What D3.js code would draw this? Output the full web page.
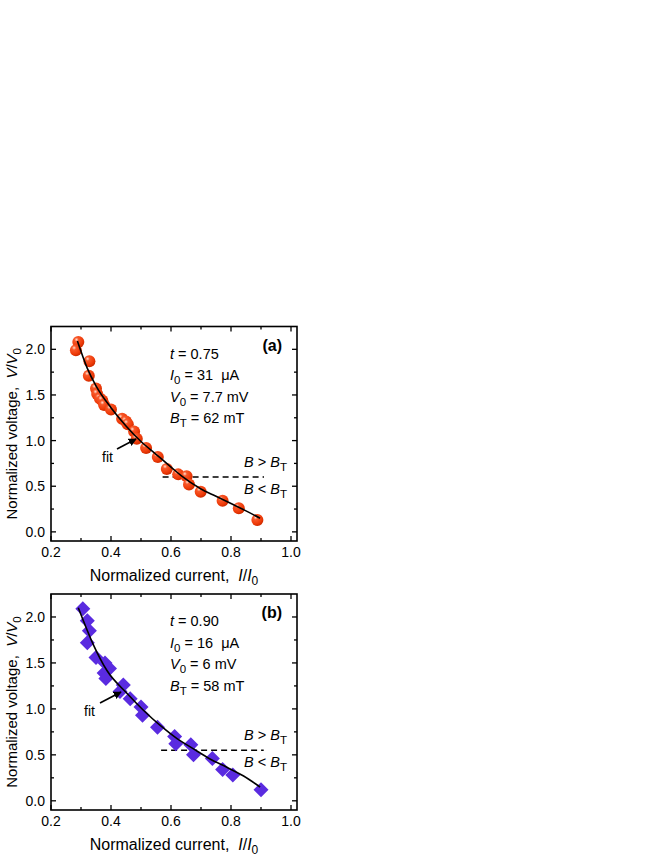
<!DOCTYPE html>
<html><head><meta charset="utf-8">
<script src="https://cdn.jsdelivr.net/npm/d3@7"></script>
<style>body{margin:0;background:#fff}svg{display:block}text{font-family:"Liberation Sans",Arial,sans-serif;fill:#000;white-space:pre}</style>
</head><body><svg id="c" width="664" height="860"></svg>
<script>
// Panel (a) data
const aI = [0.291,0.283,0.328,0.326,0.350,0.354,0.363,0.371,0.377,0.400,0.437,0.450,0.456,0.477,0.486,0.517,0.556,0.586,0.624,0.652,0.660,0.699,0.772,0.826,0.888];
const aV = [2.08,1.99,1.87,1.71,1.57,1.51,1.46,1.44,1.39,1.34,1.24,1.21,1.18,1.10,1.02,0.92,0.82,0.69,0.63,0.61,0.52,0.44,0.34,0.26,0.13];
const aFitI = [0.288,0.32,0.35,0.40,0.45,0.50,0.55,0.60,0.636,0.70,0.75,0.80,0.85,0.897];
const aFitV = [2.09,1.80,1.60,1.36,1.16,0.99,0.85,0.71,0.61,0.47,0.39,0.31,0.23,0.15];
const aDash = {i:[0.572,0.91], v:0.60};
const aText = ["0.75","31","7.7","62"];
// Panel (b) data
const bI = [0.306,0.321,0.328,0.321,0.350,0.380,0.395,0.377,0.383,0.441,0.430,0.464,0.500,0.505,0.555,0.612,0.616,0.666,0.675,0.738,0.772,0.806,0.900];
const bV = [2.09,1.96,1.85,1.72,1.56,1.50,1.44,1.39,1.33,1.26,1.19,1.11,1.02,0.93,0.80,0.70,0.62,0.61,0.50,0.46,0.34,0.28,0.12];
const bFitI = [0.291,0.341,0.386,0.453,0.508,0.564,0.619,0.675,0.730,0.786,0.842,0.897];
const bFitV = [2.10,1.70,1.42,1.17,0.985,0.82,0.68,0.565,0.455,0.365,0.27,0.15];
const bDash = {i:[0.567,0.909], v:0.55};
const bText = ["0.90","16","6","58"];
// Ticks
const xMajor = [0.2,0.4,0.6,0.8,1.0];
const xMinor = [0.3,0.5,0.7,0.9];
const yMajor = [0.0,0.5,1.0,1.5,2.0];
const yMinor = [0.25,0.75,1.25,1.75];

const svg = d3.select("#c");
const defs = svg.append("defs");
const rg = defs.append("radialGradient").attr("id","ball").attr("cx","35%").attr("cy","30%").attr("r","70%");
rg.append("stop").attr("offset","0%").attr("stop-color","#ffe0d0");
rg.append("stop").attr("offset","25%").attr("stop-color","#f8582a");
rg.append("stop").attr("offset","75%").attr("stop-color","#ee3a08");
rg.append("stop").attr("offset","100%").attr("stop-color","#d02c00");
const mk = defs.append("marker").attr("id","arr").attr("viewBox","0 0 10 10").attr("refX",9).attr("refY",5)
  .attr("markerWidth",5).attr("markerHeight",5).attr("orient","auto");
mk.append("path").attr("d","M0,0 L10,5 L0,10 Z").attr("fill","#000");

function panel(cfg){
  const {top,bottom,I,V,fitI,fitV,dash,txt,label,kind,fitLab} = cfg;
  const left=51, right=297;
  const x = d3.scaleLinear().domain([0.2,1.02]).range([left,right]);
  const y = d3.scaleLinear().domain([-0.1,2.25]).range([bottom,top]);
  const g = svg.append("g");
  const tk = (v,len,axis)=>{
    if(axis==="x"){
      g.append("line").attr("x1",x(v)).attr("x2",x(v)).attr("y1",bottom).attr("y2",bottom-len).attr("stroke","#000").attr("stroke-width",1.3);
      g.append("line").attr("x1",x(v)).attr("x2",x(v)).attr("y1",top).attr("y2",top+len).attr("stroke","#000").attr("stroke-width",1.3);
    } else {
      g.append("line").attr("y1",y(v)).attr("y2",y(v)).attr("x1",left).attr("x2",left+len).attr("stroke","#000").attr("stroke-width",1.3);
      g.append("line").attr("y1",y(v)).attr("y2",y(v)).attr("x1",right).attr("x2",right-len).attr("stroke","#000").attr("stroke-width",1.3);
    }
  };
  xMajor.forEach(v=>tk(v,5,"x")); xMinor.forEach(v=>tk(v,3,"x"));
  yMajor.forEach(v=>tk(v,5,"y")); yMinor.forEach(v=>tk(v,3,"y"));
  xMajor.forEach(v=>g.append("text").attr("x",x(v)).attr("y",bottom+16).attr("text-anchor","middle").attr("font-size",14).text(d3.format(".1f")(v)));
  yMajor.forEach(v=>g.append("text").attr("x",left-6).attr("y",y(v)+5).attr("text-anchor","end").attr("font-size",14).text(d3.format(".1f")(v)));
  g.append("rect").attr("x",left).attr("y",top).attr("width",right-left).attr("height",bottom-top).attr("fill","none").attr("stroke","#000").attr("stroke-width",1.6);
  // axis titles
  const xt = g.append("text").attr("x",174).attr("y",bottom+40).attr("text-anchor","middle").attr("font-size",16);
  xt.append("tspan").text("Normalized current,  ");
  xt.append("tspan").attr("font-style","italic").text("I");
  xt.append("tspan").text("/");
  xt.append("tspan").attr("font-style","italic").text("I");
  xt.append("tspan").attr("dy",4).attr("font-size",12).text("0");
  const yc=(top+bottom)/2;
  const yt = g.append("text").attr("transform",`translate(17,${yc}) rotate(-90)`).attr("text-anchor","middle").attr("font-size",15);
  yt.append("tspan").text("Normalized voltage,  ");
  yt.append("tspan").attr("font-style","italic").text("V");
  yt.append("tspan").text("/");
  yt.append("tspan").attr("font-style","italic").text("V");
  yt.append("tspan").attr("dy",4).attr("font-size",11.5).text("0");
  // dashed line
  g.append("line").attr("x1",x(dash.i[0])).attr("x2",x(dash.i[1])).attr("y1",y(dash.v)).attr("y2",y(dash.v))
    .attr("stroke","#000").attr("stroke-width",1.5).attr("stroke-dasharray","6,4");
  // markers
  const pts = I.map((d,i)=>[d,V[i]]);
  if(kind==="ball"){
    g.selectAll(null).data(pts).join("circle").attr("cx",d=>x(d[0])).attr("cy",d=>y(d[1])).attr("r",6).attr("fill","url(#ball)");
  } else {
    const s=7.5;
    g.selectAll(null).data(pts).join("path").attr("d",d=>`M${x(d[0])},${y(d[1])-s}L${x(d[0])+s},${y(d[1])}L${x(d[0])},${y(d[1])+s}L${x(d[0])-s},${y(d[1])}Z`).attr("fill","#5a2be0");
  }
  // fit
  const fp = fitI.map((d,i)=>[d,fitV[i]]);
  g.append("path").attr("d",d3.line().x(d=>x(d[0])).y(d=>y(d[1])).curve(d3.curveMonotoneX)(fp)).attr("fill","none").attr("stroke","#000").attr("stroke-width",1.6);
  // fit label and arrow
  g.append("text").attr("x",fitLab.tx).attr("y",fitLab.ty).attr("font-size",14).text("fit");
  g.append("line").attr("x1",fitLab.x1).attr("y1",fitLab.y1).attr("x2",fitLab.x2).attr("y2",fitLab.y2).attr("stroke","#000").attr("stroke-width",1.6).attr("marker-end","url(#arr)");
  // panel label
  g.append("text").attr("x",282).attr("y",top+24).attr("text-anchor","end").attr("font-size",16).attr("font-weight","bold").text(label);
  // parameters
  const tx=170, fs=14.5, lh=21.5, t0=top+32;
  let t=g.append("text").attr("x",tx).attr("y",t0).attr("font-size",fs);
  t.append("tspan").attr("font-style","italic").text("t"); t.append("tspan").text(" = "+txt[0]);
  t=g.append("text").attr("x",tx).attr("y",t0+lh).attr("font-size",fs);
  t.append("tspan").attr("font-style","italic").text("I"); t.append("tspan").attr("dy",4).attr("font-size",11.5).text("0");
  t.append("tspan").attr("dy",-4).text(" = "+txt[1]+"  μA");
  t=g.append("text").attr("x",tx).attr("y",t0+2*lh).attr("font-size",fs);
  t.append("tspan").attr("font-style","italic").text("V"); t.append("tspan").attr("dy",4).attr("font-size",11.5).text("0");
  t.append("tspan").attr("dy",-4).text(" = "+txt[2]+" mV");
  t=g.append("text").attr("x",tx).attr("y",t0+3*lh).attr("font-size",fs);
  t.append("tspan").attr("font-style","italic").text("B"); t.append("tspan").attr("dy",4).attr("font-size",11.5).text("T");
  t.append("tspan").attr("dy",-4).text(" = "+txt[3]+" mT");
  // B > BT / B < BT
  const bx=287, byv=y(dash.v);
  t=g.append("text").attr("x",bx).attr("y",byv-10).attr("text-anchor","end").attr("font-size",fs);
  t.append("tspan").attr("font-style","italic").text("B"); t.append("tspan").text(" > ");
  t.append("tspan").attr("font-style","italic").text("B"); t.append("tspan").attr("dy",4).attr("font-size",11.5).text("T");
  t=g.append("text").attr("x",bx).attr("y",byv+17).attr("text-anchor","end").attr("font-size",fs);
  t.append("tspan").attr("font-style","italic").text("B"); t.append("tspan").text(" < ");
  t.append("tspan").attr("font-style","italic").text("B"); t.append("tspan").attr("dy",4).attr("font-size",11.5).text("T");
}

panel({top:326.5,bottom:541,I:aI,V:aV,fitI:aFitI,fitV:aFitV,dash:aDash,txt:aText,label:"(a)",kind:"ball",
  fitLab:{tx:102,ty:462,x1:117,y1:449,x2:136,y2:439}});
panel({top:594,bottom:810,I:bI,V:bV,fitI:bFitI,fitV:bFitV,dash:bDash,txt:bText,label:"(b)",kind:"diamond",
  fitLab:{tx:84,ty:716,x1:100,y1:703,x2:121,y2:692}});
</script></body></html>
